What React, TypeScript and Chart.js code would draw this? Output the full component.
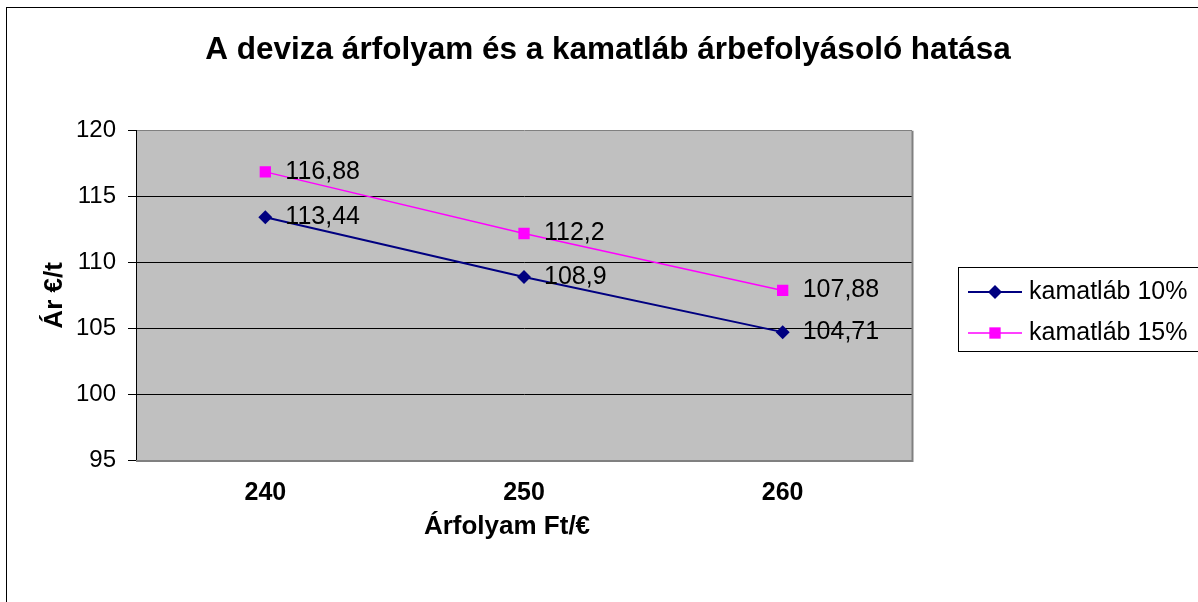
import React, { useEffect, useRef } from "react";
import { Chart, registerables } from "chart.js";

Chart.register(...registerables);

const categories = ["240", "250", "260"];
const seriesNames = ["kamatláb 10%", "kamatláb 15%"];
const rate10 = [113.44, 108.9, 104.71];
const rate15 = [116.88, 112.2, 107.88];
const yTicks = [95, 100, 105, 110, 115, 120];
const chartTitle = "A deviza árfolyam és a kamatláb árbefolyásoló hatása";
const xTitle = "Árfolyam Ft/€";
const yTitle = "Ár €/t";

const W = 1216;
const H = 602;
const PLOT_LEFT = 136;
const PLOT_RIGHT = 912;
const PLOT_BOTTOM = 460;
const FONT = "Arial, 'Liberation Sans', sans-serif";

const fmt = (v: number) => String(v).replace(".", ",");

const plotBg = {
  id: "plotBg",
  beforeDraw(chart: any) {
    const { ctx, chartArea: a } = chart;
    ctx.save();
    ctx.fillStyle = "#C0C0C0";
    ctx.fillRect(a.left, a.top, a.right - a.left, a.bottom - a.top);
    ctx.restore();
  },
  beforeDatasetsDraw(chart: any) {
    const { ctx, chartArea: a } = chart;
    ctx.save();
    ctx.strokeStyle = "#808080";
    ctx.lineWidth = 2;
    ctx.beginPath();
    ctx.moveTo(a.right + 0.5, a.top);
    ctx.lineTo(a.right + 0.5, a.bottom + 1);
    ctx.lineTo(a.left, a.bottom + 1);
    ctx.stroke();
    ctx.restore();
  },
};

const labelsPlugin = {
  id: "valueLabels",
  afterDatasetsDraw(chart: any) {
    const { ctx } = chart;
    ctx.save();
    ctx.font = `25px ${FONT}`;
    ctx.fillStyle = "#000";
    ctx.textAlign = "left";
    ctx.textBaseline = "middle";
    chart.data.datasets.forEach((ds: any, di: number) => {
      const meta = chart.getDatasetMeta(di);
      meta.data.forEach((pt: any, i: number) => {
        ctx.fillText(fmt(ds.data[i]), pt.x + 20, pt.y);
      });
    });
    ctx.restore();
  },
};

const extrasPlugin = {
  id: "extras",
  afterDraw(chart: any) {
    const { ctx } = chart;
    ctx.save();
    // x axis title
    ctx.font = `bold 26px ${FONT}`;
    ctx.fillStyle = "#000";
    ctx.textAlign = "center";
    ctx.textBaseline = "middle";
    ctx.fillText(xTitle, 507, 527);

    // legend
    const bx = 958.5, by = 267.5, bw = 260, bh = 84;
    ctx.strokeStyle = "#000";
    ctx.lineWidth = 1;
    ctx.strokeRect(bx, by, bw, bh);
    const rows = [292, 333];
    chart.data.datasets.forEach((ds: any, di: number) => {
      const y = rows[di];
      ctx.strokeStyle = ds.borderColor;
      ctx.lineWidth = ds.borderWidth;
      ctx.beginPath();
      ctx.moveTo(968, y);
      ctx.lineTo(1022, y);
      ctx.stroke();
      ctx.fillStyle = ds.pointBackgroundColor;
      const cx = 995;
      if (ds.pointStyle === "rectRot") {
        const r = ds.pointRadius;
        ctx.beginPath();
        ctx.moveTo(cx, y - r);
        ctx.lineTo(cx + r, y);
        ctx.lineTo(cx, y + r);
        ctx.lineTo(cx - r, y);
        ctx.closePath();
        ctx.fill();
      } else {
        const s = ds.pointRadius * Math.SQRT1_2;
        ctx.fillRect(cx - s, y - s, 2 * s, 2 * s);
      }
      ctx.fillStyle = "#000";
      ctx.font = `25px ${FONT}`;
      ctx.textAlign = "left";
      ctx.textBaseline = "middle";
      ctx.fillText(seriesNames[di], 1029, y);
    });
    ctx.restore();
  },
};

export default function App() {
  const ref = useRef<HTMLCanvasElement>(null);

  useEffect(() => {
    if (!ref.current) return;
    const chart = new Chart(ref.current, {
      type: "line",
      data: {
        labels: categories,
        datasets: [
          {
            label: seriesNames[0],
            data: rate10,
            borderColor: "#000080",
            backgroundColor: "#000080",
            pointBackgroundColor: "#000080",
            pointBorderColor: "#000080",
            borderWidth: 2,
            pointStyle: "rectRot",
            pointRadius: 7,
            pointBorderWidth: 0,
            tension: 0,
          },
          {
            label: seriesNames[1],
            data: rate15,
            borderColor: "#FF00FF",
            backgroundColor: "#FF00FF",
            pointBackgroundColor: "#FF00FF",
            pointBorderColor: "#FF00FF",
            borderWidth: 1.5,
            pointStyle: "rect",
            pointRadius: 8,
            pointBorderWidth: 0,
            tension: 0,
          },
        ],
      },
      options: {
        responsive: false,
        animation: false,
        layout: { padding: 0 },
        plugins: {
          legend: { display: false },
          tooltip: { enabled: false },
          title: {
            display: true,
            text: chartTitle,
            color: "#000",
            font: { family: FONT, size: 31.5, weight: "bold" },
            padding: { top: 31, bottom: 62 },
          },
        },
        scales: {
          x: {
            type: "category",
            offset: true,
            grid: { display: false, drawTicks: false },
            border: { display: false },
            ticks: {
              color: "#000",
              padding: 18,
              font: { family: FONT, size: 25, weight: "bold" },
            },
            afterFit: (s: any) => {
              s.height = H - PLOT_BOTTOM;
            },
          },
          y: {
            min: 95,
            max: 120,
            afterBuildTicks: (s: any) => {
              s.ticks = yTicks.map((v) => ({ value: v }));
            },
            grid: {
              color: (c: any) => (c.tick && (c.tick.value === 120 || c.tick.value === 95) ? "#808080" : "#000"),
              tickColor: "#000",
              tickLength: 8,
              lineWidth: 1,
            },
            border: { display: true, color: "#000", width: 1 },
            ticks: {
              color: "#000",
              padding: 12,
              font: { family: FONT, size: 24 },
            },
            title: {
              display: true,
              text: yTitle,
              color: "#000",
              font: { family: FONT, size: 26, weight: "bold" },
              padding: { top: 39, bottom: 0 },
            },
            afterFit: (s: any) => {
              s.width = PLOT_LEFT;
            },
          },
          y2: {
            position: "right",
            display: true,
            grid: { display: false, drawTicks: false },
            border: { display: false },
            ticks: { display: false },
            afterFit: (s: any) => {
              s.width = W - PLOT_RIGHT;
            },
          },
        },
      },
      plugins: [plotBg, labelsPlugin, extrasPlugin],
    } as any);
    return () => chart.destroy();
  }, []);

  return (
    <div
      style={{
        position: "fixed",
        left: 0,
        top: 0,
        width: 1198,
        height: 602,
        overflow: "hidden",
        background: "#fff",
      }}
    >
      <div
        style={{
          position: "absolute",
          left: 6,
          top: 7,
          width: 1230,
          height: 640,
          border: "1px solid #000",
          boxSizing: "border-box",
        }}
      />
      <canvas
        ref={ref}
        width={W}
        height={H}
        style={{ position: "absolute", left: 0, top: 0, width: W, height: H }}
      />
    </div>
  );
}
